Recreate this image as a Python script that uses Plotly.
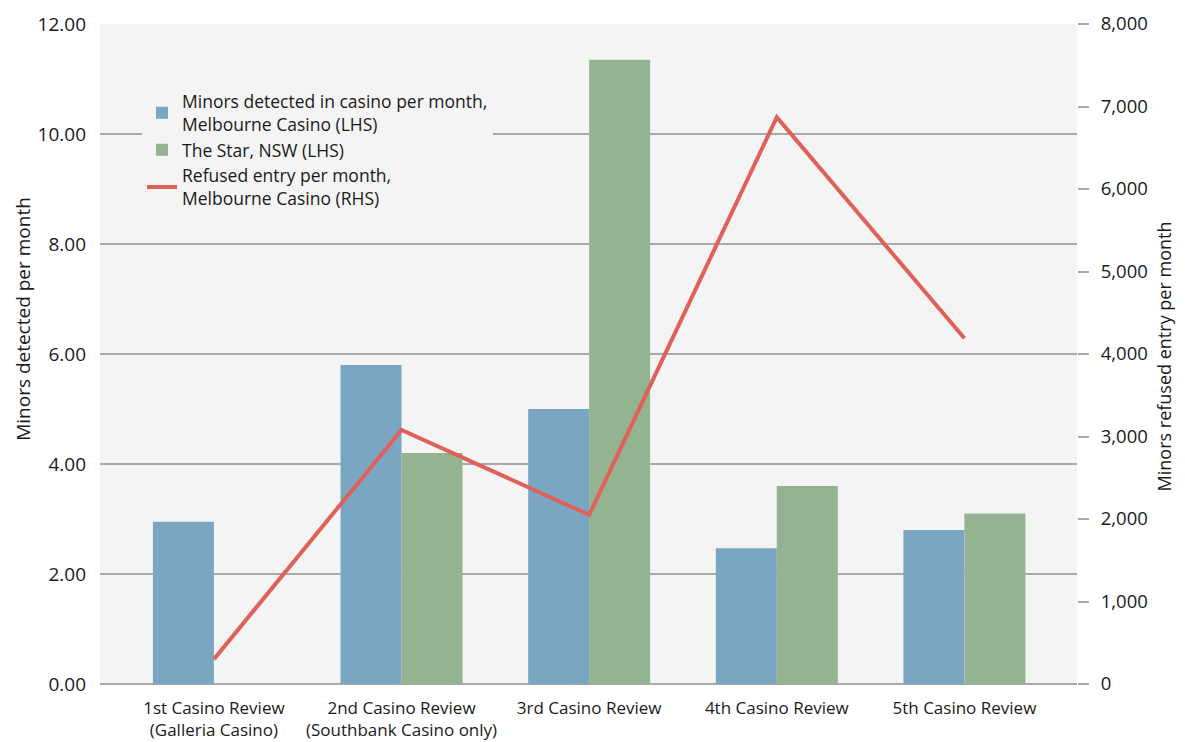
import plotly.graph_objects as go

categories = ["1st Casino Review<br>(Galleria Casino)", "2nd Casino Review<br>(Southbank Casino only)",
              "3rd Casino Review", "4th Casino Review", "5th Casino Review"]
melbourne_minors = [2.95, 5.8, 5.0, 2.47, 2.8]
star_minors = [None, 4.2, 11.35, 3.6, 3.1]
refused_entry = [300, 3080, 2050, 6870, 4190]

FONT = "Open Sans"
fig = go.Figure()
fig.add_trace(go.Bar(x=categories, y=melbourne_minors, name="Minors detected in casino per month,<br>Melbourne Casino (LHS)",
                     marker=dict(color="#7aa6c1", line=dict(width=0))))
fig.add_trace(go.Bar(x=categories, y=star_minors, name="The Star, NSW (LHS)",
                     marker=dict(color="#94b391", line=dict(width=0))))
fig.add_trace(go.Scatter(x=categories, y=refused_entry, yaxis="y2", mode="lines",
                         name="Refused entry per month,<br>Melbourne Casino (RHS)",
                         line=dict(color="#e0605a", width=4)))

fig.update_layout(
    width=1177, height=734,
    margin=dict(l=92, r=108, t=16, b=58),
    paper_bgcolor="white", plot_bgcolor="#f4f4f4",
    font=dict(family=FONT, size=17.5, color="#1a1a1a"),
    barmode="group", bargap=0.35, bargroupgap=0,
    xaxis=dict(type="category", range=[-0.607, 4.60], showgrid=False, ticks="", automargin=False,
               showline=False, tickfont=dict(size=17), zeroline=False, ticklabelstandoff=12),
    yaxis=dict(range=[0, 12], dtick=2, tickformat=".2f", showgrid=True, gridcolor="#a9a9a9", gridwidth=1.5,
               zeroline=True, zerolinecolor="#a9a9a9", zerolinewidth=2, showline=False, ticks="",
               automargin=False, tickfont=dict(size=19), ticklabelstandoff=13),
    yaxis2=dict(range=[0, 8000], dtick=1000, tickformat=",", overlaying="y", side="right",
                showgrid=False, zeroline=False, showline=False, ticks="outside", ticklen=11,
                tickcolor="#a9a9a9", tickwidth=1.5, automargin=False, tickfont=dict(size=18.5),
                ticklabelstandoff=8),
    legend=dict(x=0.043, y=0.91, xanchor="left", yanchor="top", bgcolor="#f4f4f4",
                font=dict(size=17.5), tracegroupgap=3),
    showlegend=True,
    annotations=[
        dict(text="Minors detected per month", textangle=-90, xref="paper", yref="paper",
             x=-0.079, y=0.553, xanchor="center", yanchor="middle", showarrow=False,
             font=dict(size=19)),
        dict(text="Minors refused entry per month", textangle=-90, xref="paper", yref="paper",
             x=1.0895, y=0.497, xanchor="center", yanchor="middle", showarrow=False,
             font=dict(size=18)),
    ],
)
fig.write_html("out.html")
